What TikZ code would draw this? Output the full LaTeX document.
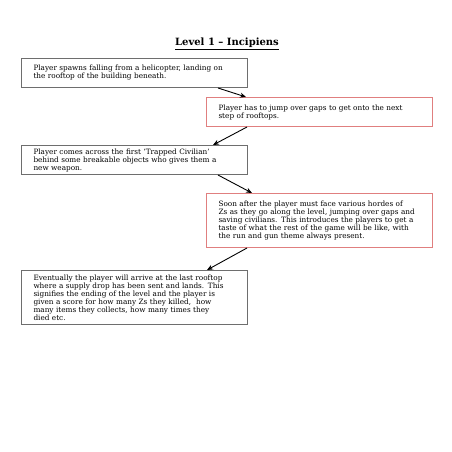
\documentclass[tikz,border=0pt]{standalone}
\usepackage{fontspec}
\setmainfont{DejaVu Serif}
\usetikzlibrary{arrows.meta}
\definecolor{boxgray}{HTML}{6E6E6E}
\definecolor{boxred}{HTML}{E07F7F}
\tikzset{
  stepbox/.style={draw=boxgray, line width=1pt, anchor=north west,
    minimum width=226pt, minimum height=29pt, text width=202pt,
    inner xsep=12pt, inner ysep=0pt, align=left,
    font=\fontsize{7.3}{8}\selectfont},
  redbox/.style={stepbox, draw=boxred},
  flow/.style={line width=0.9pt, -{Stealth[length=6pt,width=5pt]}}
}
\begin{document}
\begin{tikzpicture}[x=1pt,y=-1pt]
\useasboundingbox[fill=white] (0,0) rectangle (452,452);
\node[font=\fontsize{10}{11}\selectfont\bfseries] (title) at (227,44) {\underline{Level 1 – Incipiens}};
\node[stepbox] (b1) at (21,58) {Player spawns falling from a helicopter, landing on\\the rooftop of the building beneath.};
\node[redbox] (b2) at (206,97) {Player has to jump over gaps to get onto the next\\step of rooftops.};
\node[stepbox] (b3) at (21,145) {Player comes across the first `Trapped Civilian'\\behind some breakable objects who gives them a\\new weapon.};
\node[redbox, minimum height=54pt] (b4) at (206,193) {Soon after the player must face various hordes of\\Zs as they go along the level, jumping over gaps and\\saving civilians. This introduces the players to get a\\taste of what the rest of the game will be like, with\\the run and gun theme always present.};
\node[stepbox, minimum height=54pt] (b5) at (21,270) {Eventually the player will arrive at the last rooftop\\where a supply drop has been sent and lands. This\\signifies the ending of the level and the player is\\given a score for how many Zs they killed,~ how\\many items they collects, how many times they\\died etc.};
\draw[flow] ([xshift=197pt]b1.south west) -- ([xshift=40pt]b2.north west);
\draw[flow] ([xshift=41pt]b2.south west) -- ([xshift=192pt]b3.north west);
\draw[flow] ([xshift=197pt]b3.south west) -- ([xshift=46pt]b4.north west);
\draw[flow] ([xshift=41pt]b4.south west) -- ([xshift=186pt]b5.north west);
\end{tikzpicture}
\end{document}
